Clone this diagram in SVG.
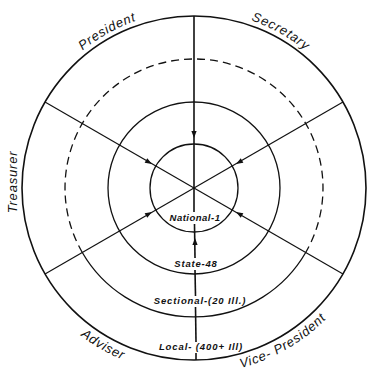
<svg xmlns="http://www.w3.org/2000/svg" xmlns:xlink="http://www.w3.org/1999/xlink" width="370" height="377" viewBox="0 0 370 377">
<style>
.ring{fill:none;stroke:#111;stroke-width:1.3}
.outer{fill:none;stroke:#111;stroke-width:1.6}
.dash{fill:none;stroke:#111;stroke-width:1.3;stroke-dasharray:8 5}
.spoke{stroke:#111;stroke-width:1.2;fill:none}
.vert{stroke:#111;stroke-width:1.6;fill:none}
.arr{fill:#111}
.office{font-family:"Liberation Sans",Arial,sans-serif;font-style:italic;font-size:13px;letter-spacing:0.8px;fill:#111}
.level{font-family:"Liberation Sans",Arial,sans-serif;font-style:italic;font-weight:bold;font-size:9.5px;fill:#111;text-anchor:middle}
</style>
<defs>
<path id="arrow" d="M0,0 L-7,-2.6 L-7,2.6 Z"/>
<path id="topArc" d="M17,188 A177,177 0 0 1 371,188"/>
<path id="botArc" d="M8,188 A186,186 0 0 0 380,188"/>
</defs>
<rect width="370" height="377" fill="#fff"/>

<g id="ring-local"><circle class="outer" cx="194" cy="188" r="172"/></g>
<g id="ring-sectional">
<path class="dash" d="M82.3,252.5 A129,129 0 1 1 305.7,252.5"/>
<path class="ring" d="M305.7,252.5 A129,129 0 0 1 82.3,252.5"/>
</g>
<g id="ring-state"><circle class="ring" cx="194" cy="188" r="86"/></g>
<g id="ring-national"><circle class="ring" cx="194" cy="188" r="44"/></g>

<g id="connectors">
<line class="vert" x1="194" y1="16" x2="194" y2="212"/>
<line class="vert" x1="194.5" y1="224" x2="195" y2="258"/>
<line class="vert" x1="195" y1="270" x2="195.5" y2="296"/>
<line class="vert" x1="195.5" y1="307" x2="196" y2="342"/>
<line class="vert" x1="196" y1="353" x2="196" y2="360"/>
<line class="spoke" x1="45" y1="102" x2="343" y2="274"/>
<line class="spoke" x1="343" y1="102" x2="45" y2="274"/>
<use href="#arrow" class="arr" transform="translate(194,138) rotate(90)"/>
<use href="#arrow" class="arr" transform="translate(195,238) rotate(-90)"/>
<use href="#arrow" class="arr" transform="translate(152,164) rotate(30)"/>
<use href="#arrow" class="arr" transform="translate(236,164) rotate(150)"/>
<use href="#arrow" class="arr" transform="translate(152,212) rotate(-30)"/>
<use href="#arrow" class="arr" transform="translate(236,212) rotate(-150)"/>
</g>

<g id="label-president"><text class="office" text-anchor="middle"><textPath href="#topArc" startOffset="33.9%">President</textPath></text></g>
<g id="label-secretary"><text class="office" text-anchor="middle"><textPath href="#topArc" startOffset="66.1%">Secretary</textPath></text></g>
<g id="label-treasurer"><text class="office" text-anchor="middle" transform="translate(17,182) rotate(-90)">Treasurer</text></g>
<g id="label-adviser"><text class="office" text-anchor="middle"><textPath href="#botArc" startOffset="33.3%">Adviser</textPath></text></g>
<g id="label-vp"><text class="office" text-anchor="middle"><textPath href="#botArc" startOffset="66.7%">Vice- President</textPath></text></g>

<g id="label-national"><text class="level" x="195" y="221" letter-spacing="0.5">National-1</text></g>
<g id="label-state"><text class="level" x="196" y="267" letter-spacing="0.8">State-48</text></g>
<g id="label-sectional"><text class="level" x="200" y="304" letter-spacing="0.9">Sectional-(20 Ill.)</text></g>
<g id="label-local"><text class="level" x="201" y="350" letter-spacing="0.9">Local- (400+ Ill)</text></g>
</svg>
